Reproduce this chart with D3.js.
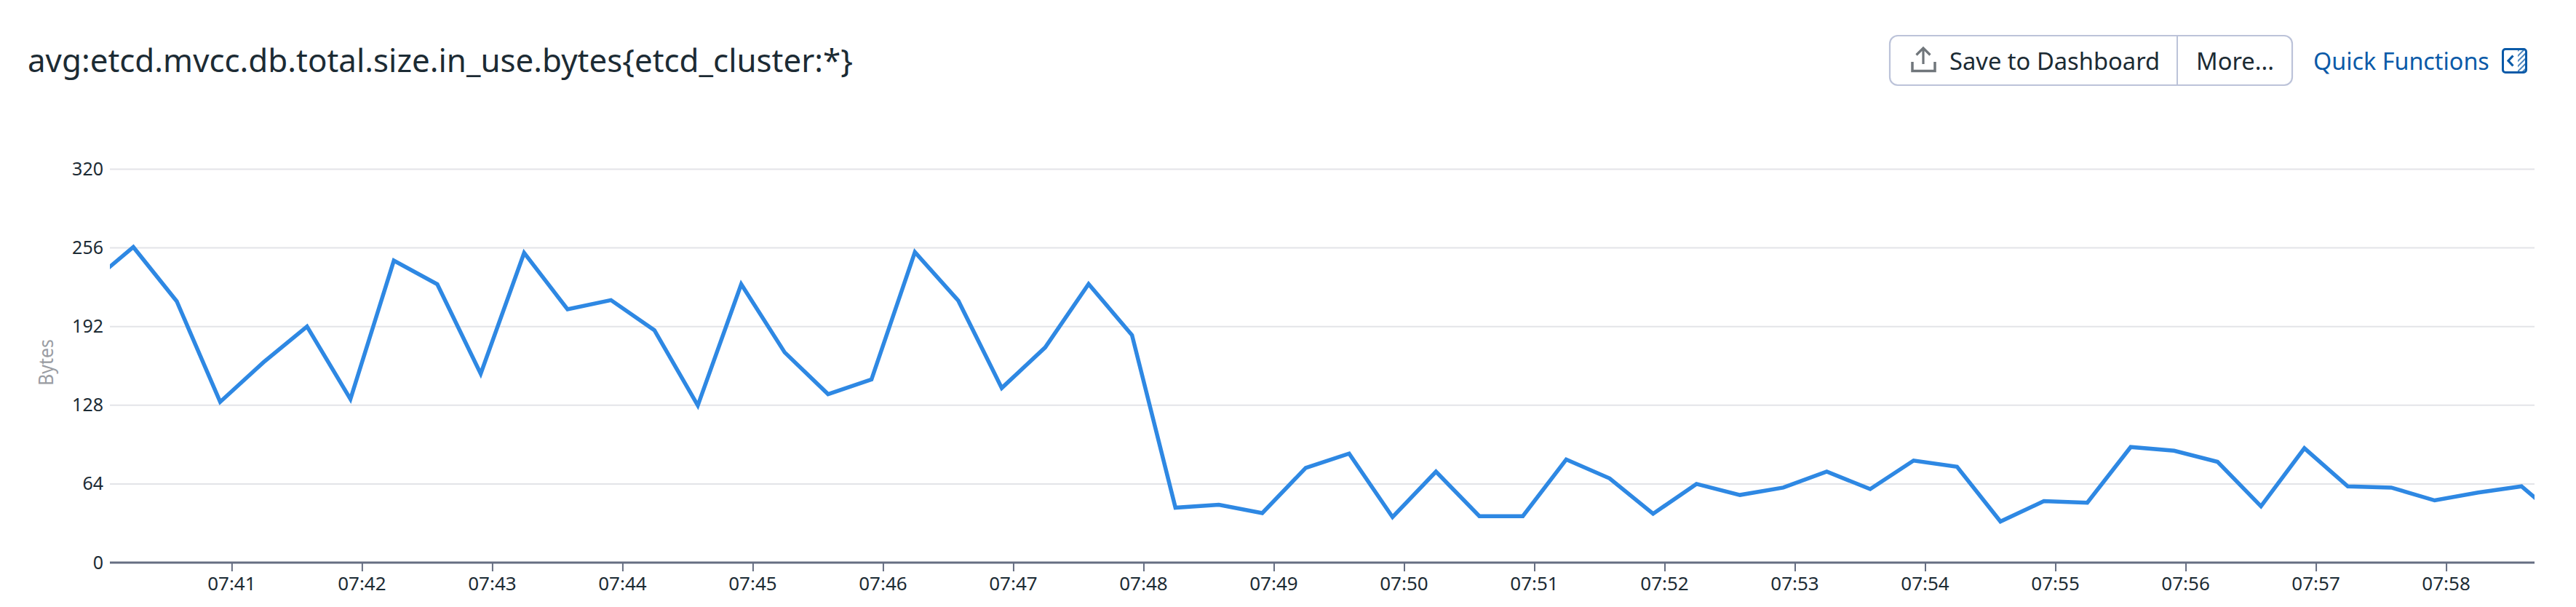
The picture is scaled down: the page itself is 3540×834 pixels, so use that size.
<!DOCTYPE html>
<html><head><meta charset="utf-8">
<script src="https://cdn.jsdelivr.net/npm/d3@7/dist/d3.min.js"></script>
<style>
html,body{margin:0;padding:0;background:#fff;}
svg{display:block;font-family:"Noto Sans",sans-serif;}
.axis path{display:none;}
</style></head><body><svg id="c" width="3540" height="834"></svg>
<script>
const chartTitle = "avg:etcd.mvcc.db.total.size.in_use.bytes{etcd_cluster:*}";
const yLabel = "Bytes";
const yTicks = [0, 64, 128, 192, 256, 320];
const xTickMinutes = [41,42,43,44,45,46,47,48,49,50,51,52,53,54,55,56,57,58];
const firstSampleSecond = 7*3600 + 39*60 + 54.7;
const sampleStepSeconds = 20;
const values = [227,256.6,212.5,130.7,163,192,133,245.6,226.4,153.6,251.9,206,213.5,189,127.8,226.4,171,137,149,252.5,
  213,142,175,226.6,185,44.7,47,40.3,77,88.7,37,74,37.8,37.8,83.9,68.5,39.7,64,55,
  61,74,59.8,83,78,33.4,50,48.7,94,91,82,45.8,93,62,61,50.6,57,62,32];

const at = s => new Date(Date.UTC(2020,0,1,0,0,0) + s*1000);
const svg = d3.select("#c");
const L=151,R=3483,T=232.4,B=773;
const x = d3.scaleUtc().domain([at(7*3600+40*60+3.9),at(7*3600+58*60+40.7)]).range([L,R]);
const y = d3.scaleLinear().domain([0,320]).range([B,T]);

svg.append("text").attr("x",38).attr("y",99).attr("font-size",43.9).attr("fill","#1c2b34").text(chartTitle);

// grid
svg.append("g").selectAll("line").data(yTicks.filter(d=>d>0)).join("line")
  .attr("x1",L).attr("x2",R).attr("y1",d=>y(d)).attr("y2",d=>y(d))
  .attr("stroke","#e3e4e8").attr("stroke-width",2);

// y axis
const gy = svg.append("g").attr("class","axis").attr("transform",`translate(${L},0)`)
  .call(d3.axisLeft(y).tickValues(yTicks).tickSize(0).tickPadding(9).tickFormat(d3.format("d")));
gy.selectAll("text").attr("font-size",25).attr("font-family","Noto Sans").attr("fill","#1c2b34");

// x axis
const xTicks = xTickMinutes.map(m=>at(7*3600+m*60));
const gx = svg.append("g").attr("class","axis").attr("transform",`translate(0,${B})`)
  .call(d3.axisBottom(x).tickValues(xTicks).tickSize(12).tickPadding(7.2).tickFormat(d3.utcFormat("%H:%M")));
gx.selectAll("text").attr("font-size",26).attr("font-family","Noto Sans").attr("fill","#1c2b34").attr("dx",-0.5);
gx.selectAll("line").attr("stroke","#666e82").attr("stroke-width",2);
svg.append("line").attr("x1",L).attr("x2",R).attr("y1",B).attr("y2",B).attr("stroke","#666e82").attr("stroke-width",3);

svg.append("text").attr("transform",`translate(73,498) rotate(-90)`)
  .attr("text-anchor","middle").attr("font-size",27).attr("textLength",64).attr("lengthAdjust","spacingAndGlyphs")
  .attr("fill","#9a9da3").text(yLabel);

// line
svg.append("clipPath").attr("id","pc").append("rect").attr("x",L).attr("y",0).attr("width",R-L).attr("height",834);
const line = d3.line().x((d,i)=>x(at(firstSampleSecond+i*sampleStepSeconds))).y(d=>y(d));
svg.append("path").datum(values).attr("clip-path","url(#pc)").attr("d",line)
  .attr("fill","none").attr("stroke","#2e88e3").attr("stroke-width",5.5).attr("stroke-linejoin","miter");

// header controls
const defs = svg.append("defs");
const hatch = defs.append("pattern").attr("id","hatch").attr("patternUnits","userSpaceOnUse").attr("width",5).attr("height",5).attr("patternTransform","rotate(45)");
hatch.append("rect").attr("width",2).attr("height",5).attr("fill","#0a5aa8").attr("opacity",0.75);

const btn = svg.append("g");
btn.append("rect").attr("x",2597).attr("y",49).attr("width",553).attr("height",68).attr("rx",11)
  .attr("fill","#fff").attr("stroke","#bcc3d9").attr("stroke-width",2.2);
btn.append("line").attr("x1",2992).attr("x2",2992).attr("y1",49).attr("y2",117).attr("stroke","#bcc3d9").attr("stroke-width",2);
btn.append("path").attr("d","M2628 85V97.5H2659V85").attr("fill","none").attr("stroke","#70767b").attr("stroke-width",3.5);
btn.append("path").attr("d","M2643 88V66M2633.5 75.5L2643 66L2652.5 75.5").attr("fill","none").attr("stroke","#70767b").attr("stroke-width",3.2);
btn.append("text").attr("x",2679).attr("y",96).attr("font-size",32.7).attr("fill","#1c2b34").text("Save to Dashboard");
btn.append("text").attr("x",3018).attr("y",96).attr("font-size",32.7).attr("fill","#1c2b34").text("More...");
svg.append("text").attr("x",3179).attr("y",96).attr("font-size",32.3).attr("fill","#0a5aa8").text("Quick Functions");
const ic = svg.append("g");
ic.append("rect").attr("x",3460).attr("y",67).attr("width",11).attr("height",33).attr("fill","url(#hatch)");
ic.append("rect").attr("x",3439.5).attr("y",67.5).attr("width",32).attr("height",32).attr("rx",3.5).attr("fill","none").attr("stroke","#0a5aa8").attr("stroke-width",3);
ic.append("path").attr("d","M3453.5 76.5L3447 83.5L3453.5 90.5").attr("fill","none").attr("stroke","#0a5aa8").attr("stroke-width",3.2);
</script></body></html>
